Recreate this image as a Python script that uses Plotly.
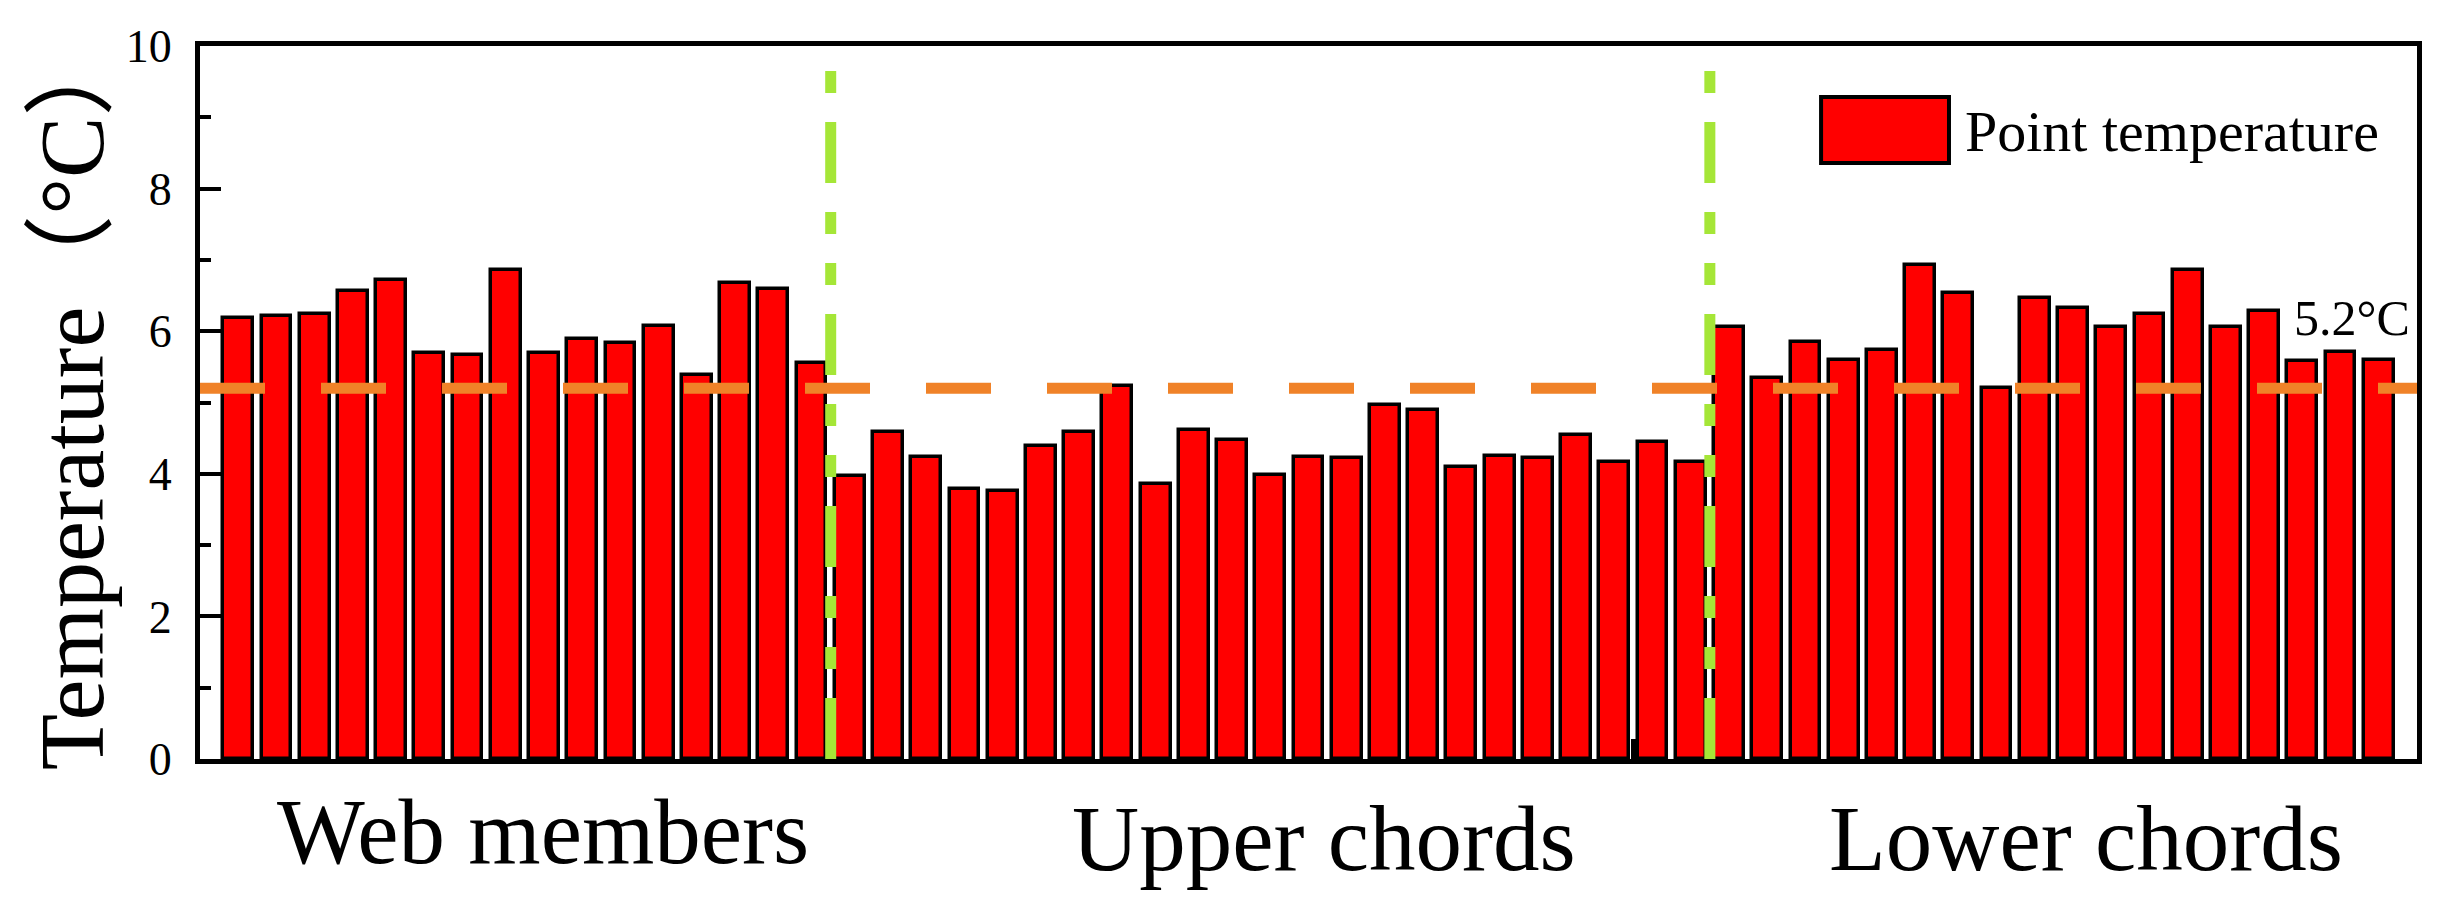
import plotly.graph_objects as go

# ---- data ----
web_members = [6.18, 6.21, 6.24, 6.56, 6.72, 5.70, 5.66, 6.86, 5.70, 5.89, 5.83, 6.08,
               5.39, 6.68, 6.59, 5.56]
upper_chords = [3.97, 4.59, 4.24, 3.78, 3.76, 4.39, 4.58, 5.23, 3.86, 4.62, 4.48, 3.99,
                4.24, 4.22, 4.97, 4.89, 4.10, 4.25, 4.22, 4.54, 4.16, 4.44, 4.16]
lower_chords = [6.06, 5.35, 5.85, 5.60, 5.73, 6.93, 6.54, 5.21, 6.47, 6.32, 6.06, 6.24,
                6.86, 6.06, 6.28, 5.58, 5.71, 5.60]
group_names = ["Web members", "Upper chords", "Lower chords"]
reference_temp = 5.2
y_ticks = [0, 2, 4, 6, 8, 10]

values = web_members + upper_chords + lower_chords
positions = list(range(1, len(values) + 1))
n_web, n_up = len(web_members), len(upper_chords)
sep1 = n_web + 0.5
sep2 = n_web + n_up + 0.5

SERIF = "Liberation Serif, Times New Roman, Noto Sans CJK SC, serif"

fig = go.Figure()
fig.add_trace(go.Bar(
    x=positions, y=values, width=0.78, name="Point temperature",
    marker=dict(color="#FF0000", line=dict(color="black", width=3.5)),
    showlegend=False,
))

# reference line 5.2 °C
fig.add_shape(type="line", xref="x", yref="y", x0=0, x1=len(values) + 1,
              y0=reference_temp, y1=reference_temp,
              line=dict(color="#F08228", width=11, dash="65px,56px"), layer="above")
# group separators
for xs in (sep1, sep2):
    fig.add_shape(type="line", xref="x", yref="y", x0=xs, x1=xs, y0=0, y1=10,
                  line=dict(color="#A5E637", width=11,
                            dash="61px,29px,22px,29px,22px,29px"), layer="above")

# manual legend
fig.add_shape(type="rect", xref="paper", yref="paper", x0=0.7312, x1=0.7889,
              y0=0.8359, y1=0.9285, fillcolor="#FF0000",
              line=dict(color="black", width=4))
fig.add_annotation(xref="paper", yref="paper", x=0.7952, y=0.8794, xanchor="left",
                   yanchor="middle", text="Point temperature", showarrow=False,
                   font=dict(family=SERIF, size=58, color="black"))

# 5.2°C label
fig.add_annotation(xref="paper", yref="y", x=0.9977, y=6.185, xanchor="right",
                   yanchor="middle", text=f"{reference_temp}°C", showarrow=False,
                   font=dict(family=SERIF, size=50, color="black"))

# group labels
group_x = [8.97, 29.4, 49.35]
group_y = [-0.101, -0.112, -0.112]
for name, gx, gy in zip(group_names, group_x, group_y):
    fig.add_annotation(xref="x", yref="paper", x=gx, y=gy, text=name, showarrow=False,
                       xanchor="center", yanchor="middle",
                       font=dict(family=SERIF, size=93, color="black"))

# y title
fig.add_annotation(xref="paper", yref="paper", x=-0.058, y=0.508, textangle=-90,
                   xanchor="center", yanchor="middle", showarrow=False,
                   text="Temperature（°C）",
                   font=dict(family=SERIF, size=92, color="black"))

fig.update_layout(
    width=2437, height=903,
    margin=dict(l=192, r=28, t=38, b=152),
    paper_bgcolor="white", plot_bgcolor="white",
    bargap=0,
)
fig.update_xaxes(range=[0, len(values) + 1], showgrid=False, zeroline=False,
                 showline=True, linecolor="black", linewidth=5, mirror=True,
                 tickmode="array", tickvals=[16.5, 37.5], ticks="inside",
                 ticklen=20, tickwidth=5, tickcolor="black", showticklabels=False)
fig.update_yaxes(range=[0, 10], showgrid=False, zeroline=False,
                 showline=True, linecolor="black", linewidth=5, mirror=True,
                 tickmode="array", tickvals=y_ticks, ticks="inside", ticklen=21,
                 tickwidth=4, tickcolor="black", ticklabelstandoff=14,
                 tickfont=dict(family=SERIF, size=46, color="black"),
                 minor=dict(tickmode="array", tickvals=[1, 3, 5, 7, 9], ticks="inside",
                            ticklen=11, tickwidth=4, tickcolor="black"))

fig.write_html("out.html")
